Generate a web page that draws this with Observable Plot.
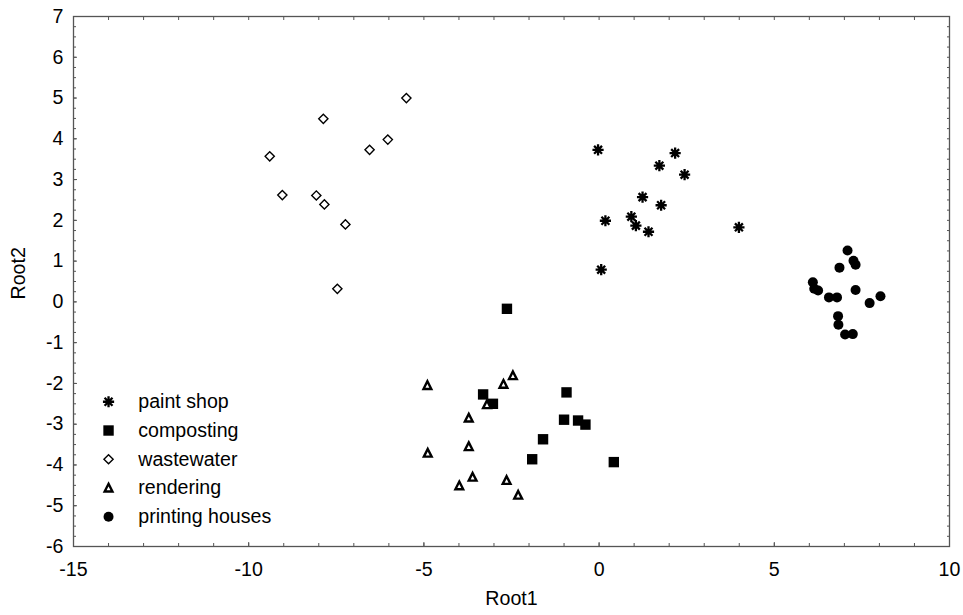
<!DOCTYPE html>
<html><head><meta charset="utf-8">
<script src="https://cdn.jsdelivr.net/npm/d3@7"></script>
<script src="https://cdn.jsdelivr.net/npm/@observablehq/plot@0.6"></script>
<style>body{margin:0;background:#fff}#chart svg{display:block}</style>
</head><body><div id="chart"></div>
<script>
// ---- data ----
const seriesNames = ["paint shop", "composting", "wastewater", "rendering", "printing houses"];

const paintShopX = [-0.03, 2.17, 1.72, 2.44, 1.24, 1.77, 0.18, 0.92, 1.05, 1.41, 3.99, 0.06];
const paintShopY = [3.73, 3.65, 3.34, 3.12, 2.57, 2.37, 1.99, 2.09, 1.87, 1.72, 1.83, 0.79];

const compostingX = [-2.63, -3.31, -3.03, -0.93, -1.00, -0.60, -0.39, -1.60, -1.91, 0.42];
const compostingY = [-0.17, -2.27, -2.50, -2.22, -2.89, -2.91, -3.01, -3.37, -3.86, -3.93];

const wastewaterX = [-5.50, -7.87, -6.03, -6.55, -9.40, -9.04, -8.07, -7.84, -7.24, -7.47];
const wastewaterY = [5.00, 4.49, 3.98, 3.73, 3.57, 2.62, 2.61, 2.39, 1.90, 0.32];

const renderingX = [-4.90, -2.46, -2.73, -3.20, -3.72, -3.72, -4.89, -3.61, -3.99, -2.64, -2.31];
const renderingY = [-2.05, -1.81, -2.02, -2.52, -2.85, -3.55, -3.71, -4.30, -4.51, -4.38, -4.74];

const printingX = [7.09, 7.26, 7.32, 6.86, 6.10, 6.14, 6.25, 7.32, 6.56, 6.79, 8.03, 7.72, 6.82, 6.83, 7.02, 7.24];
const printingY = [1.26, 1.01, 0.91, 0.84, 0.48, 0.32, 0.28, 0.29, 0.11, 0.11, 0.14, -0.03, -0.35, -0.56, -0.80, -0.79];

const xTicks = [-15, -10, -5, 0, 5, 10];
const yTicks = [-6, -5, -4, -3, -2, -1, 0, 1, 2, 3, 4, 5, 6, 7];
const xLabel = "Root1";
const yLabel = "Root2";

// ---- symbols ----
const rad = size => Math.sqrt(size / Math.PI);
const star8 = {draw(c, s) { const r = rad(s) * 1.12, d = r * Math.SQRT1_2;
  c.moveTo(-r, 0); c.lineTo(r, 0); c.moveTo(0, -r); c.lineTo(0, r);
  c.moveTo(-d, -d); c.lineTo(d, d); c.moveTo(-d, d); c.lineTo(d, -d); }};
const square = {draw(c, s) { const r = rad(s) * 1.04; c.rect(-r, -r, 2 * r, 2 * r); }};
const diamond = {draw(c, s) { const r = rad(s) * 0.92;
  c.moveTo(0, -r); c.lineTo(r, 0); c.lineTo(0, r); c.lineTo(-r, 0); c.closePath(); }};
const triangle = {draw(c, s) { const r = rad(s) * 1.05;
  c.moveTo(0, -r * 0.8); c.lineTo(r * 0.74, r * 0.66); c.lineTo(-r * 0.74, r * 0.66); c.closePath(); }};
const circle = {draw(c, s) { const r = rad(s); c.moveTo(r, 0); c.arc(0, 0, r, 0, 2 * Math.PI); }};

const styles = [
  {symbol: star8, fill: "none", stroke: "#000", strokeWidth: 2.3},
  {symbol: square, fill: "#000", stroke: "none"},
  {symbol: diamond, fill: "#fff", stroke: "#000", strokeWidth: 1.4},
  {symbol: triangle, fill: "#fff", stroke: "#000", strokeWidth: 2.4, strokeLinejoin: "miter"},
  {symbol: circle, fill: "#000", stroke: "none"}
];
const xs = [paintShopX, compostingX, wastewaterX, renderingX, printingX];
const ys = [paintShopY, compostingY, wastewaterY, renderingY, printingY];

const pointMarks = xs.map((X, k) =>
  Plot.dot(d3.range(X.length), {x: i => X[i], y: i => ys[k][i], r: 5, ...styles[k]}));

const legendMarks = seriesNames.flatMap((name, k) => [
  Plot.dot([name], {x: () => -14.0, y: () => -2.45 - 0.705 * k, r: 5, ...styles[k]}),
  Plot.text([name], {x: () => -13.15, y: () => -2.45 - 0.705 * k, text: d => d,
    textAnchor: "start", fontSize: 19.6, fill: "#000"})
]);

const axisColor = "#555";
const plot = Plot.plot({
  width: 963, height: 615,
  marginLeft: 73, marginRight: 14, marginTop: 16, marginBottom: 69,
  style: {fontFamily: "'Liberation Sans', Arial, sans-serif", fontSize: "19.6px", color: "#000", background: "#fff"},
  x: {domain: [-15, 10]},
  y: {domain: [-6, 7]},
  marks: [
    Plot.frame({stroke: axisColor, strokeWidth: 1.3}),
    // minor ticks
    Plot.axisX({anchor: "bottom", ticks: d3.range(-15, 11, 1), tickSize: -3, text: null, label: null, stroke: axisColor}),
    Plot.axisX({anchor: "top", ticks: d3.range(-15, 11, 1), tickSize: -3, text: null, label: null, stroke: axisColor}),
    Plot.axisY({anchor: "left", ticks: d3.range(-6, 7.001, 0.25), tickSize: -3, text: null, label: null, stroke: axisColor}),
    Plot.axisY({anchor: "right", ticks: d3.range(-6, 7.001, 0.25), tickSize: -3, text: null, label: null, stroke: axisColor}),
    // major ticks
    Plot.axisX({anchor: "bottom", ticks: xTicks, tickSize: -4, text: null, label: null, stroke: axisColor}),
    Plot.axisY({anchor: "left", ticks: yTicks, tickSize: -4, text: null, label: null, stroke: axisColor}),
    // tick labels
    Plot.axisX({anchor: "bottom", ticks: xTicks, tickSize: 0, tickPadding: 16, tickFormat: d => String(d), label: null, fontSize: 19.6, fill: "#000"}),
    Plot.axisY({anchor: "left", ticks: yTicks, tickSize: 0, tickPadding: 10, tickFormat: d => String(d), label: null, fontSize: 19.6, fill: "#000"}),
    Plot.text([xLabel], {frameAnchor: "bottom", dy: 58, text: d => d, fontSize: 19.6, fill: "#000"}),
    Plot.text([yLabel], {frameAnchor: "left", dx: -55, dy: 18, rotate: -90, text: d => d, fontSize: 19.6, fill: "#000"}),
    ...pointMarks,
    ...legendMarks
  ]
});
document.getElementById("chart").append(plot);
</script>
</body></html>
